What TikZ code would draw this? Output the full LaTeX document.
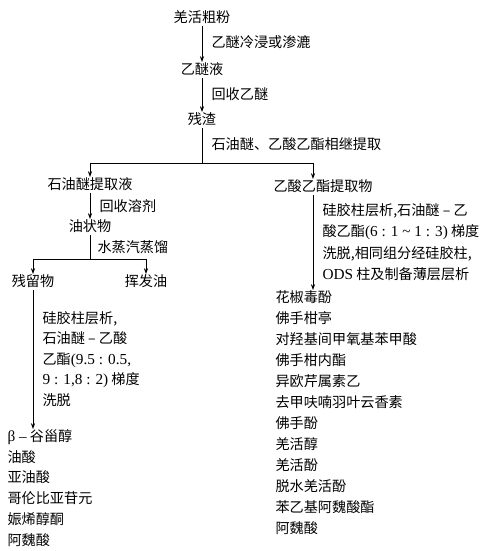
\documentclass[tikz,border=0pt]{standalone}
\usepackage{fontspec}
\setmainfont{Liberation Serif}[Scale=1.08]
\newfontfamily\cjk{Noto Sans CJK SC}
\usetikzlibrary{arrows.meta}
\newcommand{\xw}[1]{{\rmfamily #1}}

\tikzset{
    wz/.style={font=\cjk\fontsize{10.6pt}{12pt}\selectfont, inner sep=1pt, text height=8pt, text depth=1.5pt},
    bz/.style={wz, anchor=west},
    jt/.style={-{Stealth[length=4.5pt,width=3.2pt]}, line width=0.6pt},
    xian/.style={line width=0.6pt},
}

\begin{document}
\begin{tikzpicture}[x=0.75pt,y=-0.75pt]
    \useasboundingbox (0,0) rectangle (490,551);
    % 主干
    \node[wz] (qh) at (202,18) {羌活粗粉};
    \node[wz] (ym) at (202,70) {乙醚液};
    \node[wz] (cz) at (202,120) {残渣};
    \node[bz] (l1) at (210,43) {乙醚冷浸或渗漉};
    \node[bz] (l2) at (210,95) {回收乙醚};
    \node[bz] (l3) at (210,145) {石油醚、乙酸乙酯相继提取};
    \draw[jt] (qh) -- (ym);
    \draw[jt] (ym) -- (cz);
    \coordinate (fz) at (202,163);
    \coordinate (rx) at (313,0);
    \draw[xian] (cz) -- (fz);
    % 两个提取部位
    \node[wz] (sy) at (90,185) {石油醚提取液};
    \node[bz] (ea) at (272,187) {乙酸乙酯提取物};
    \draw[jt] (fz) -| (sy.north);
    \draw[jt] (fz) -| (ea.north -| rx);
    % 石油醚部分
    \node[wz] (yz) at (90,227) {油状物};
    \node[bz] (l4) at (98,207) {回收溶剂};
    \node[bz] (l5) at (96,248) {水蒸汽蒸馏};
    \draw[jt] (sy) -- (yz);
    \coordinate (fz2) at (90,259);
    \draw[xian] (yz) -- (fz2);
    \node[wz] (cl) at (33,282) {残留物};
    \node[wz] (hf) at (146,282) {挥发油};
    \draw[jt] (fz2) -| (cl.north);
    \draw[jt] (fz2) -| (hf.north);
    \foreach \t [count=\i] in {{硅胶柱层析,}, {石油醚 – 乙酸}, {乙酯\xw{(9.5 : 0.5,}}, {\xw{9 : 1,8 : 2)} 梯度}, {洗脱}}
        \node[bz] (ll\i) at (41,{319+20.5*(\i-1)}) {\t}; % 残留物分离条件
    \foreach \t [count=\i] in {{\xw{β –} 谷甾醇}, 油酸, 亚油酸, 哥伦比亚苷元, 娠烯醇酮, 阿魏酸}
        \node[bz] (zl\i) at (6,{437+20.8*(\i-1)}) {\t}; % 残留物所得化合物
    \draw[jt] (cl) -- (zl1.north -| cl);
    % 乙酸乙酯部分
    \foreach \t [count=\i] in {{硅胶柱层析,石油醚 – 乙}, {酸乙酯\xw{(6 : 1 \textasciitilde{} 1 : 3)} 梯度}, {洗脱,相同组分经硅胶柱,}, {\xw{ODS} 柱及制备薄层层析}}
        \node[bz] (rl\i) at (321,{211+21.5*(\i-1)}) {\t}; % 乙酸乙酯分离条件
    \foreach \t [count=\i] in {花椒毒酚, 佛手柑亭, 对羟基间甲氧基苯甲酸, 佛手柑内酯, 异欧芹属素乙, 去甲呋喃羽叶云香素, 佛手酚, 羌活醇, 羌活酚, 脱水羌活酚, 苯乙基阿魏酸酯, 阿魏酸}
        \node[bz] (yl\i) at (274,{298+21*(\i-1)}) {\t}; % 乙酸乙酯所得化合物
    \draw[jt] (ea.south -| rx) -- (yl1.north -| rx);
\end{tikzpicture}
\end{document}
